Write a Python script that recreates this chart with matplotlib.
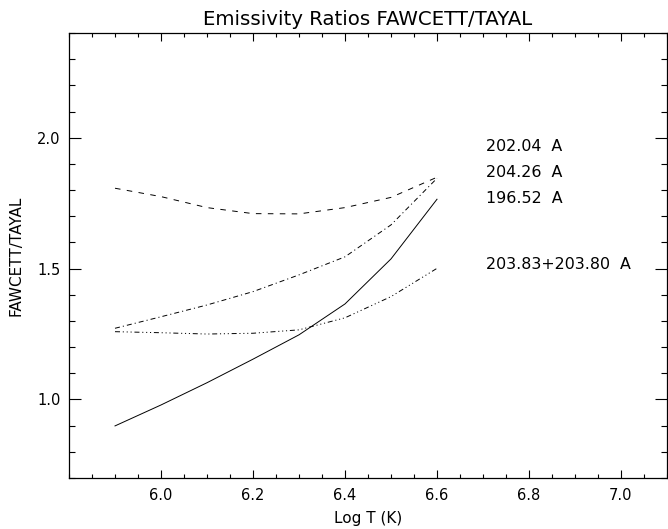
import matplotlib
matplotlib.use("Agg")
import matplotlib.pyplot as plt
from matplotlib.ticker import MultipleLocator

# log T grid and the four emissivity ratio curves
log_t = [5.9, 6.0, 6.1, 6.2, 6.3, 6.4, 6.5, 6.6]
ratio_202 = [1.807, 1.775, 1.733, 1.710, 1.709, 1.733, 1.772, 1.849]
ratio_204 = [1.272, 1.316, 1.361, 1.412, 1.476, 1.545, 1.667, 1.845]
ratio_196 = [0.899, 0.979, 1.064, 1.154, 1.247, 1.365, 1.537, 1.765]
ratio_203 = [1.259, 1.255, 1.250, 1.253, 1.266, 1.312, 1.393, 1.501]

labels = ["202.04  A", "204.26  A", "196.52  A", "203.83+203.80  A"]
label_y = [1.95, 1.85, 1.75, 1.50]
label_x = 6.706

plt.rcParams["font.family"] = "DejaVu Sans"
plt.rcParams["lines.scale_dashes"] = False

fig = plt.figure(figsize=(6.68, 5.29), dpi=100)
ax = fig.add_axes([0.1033, 0.0964, 0.8952, 0.8412])

lw = 0.7
ax.plot(log_t, ratio_202, color="k", lw=lw, linestyle=(0, (4.0, 4.6)))
ax.plot(log_t, ratio_204, color="k", lw=lw, linestyle=(0, (3.6, 2.2, 0.8, 2.2)))
ax.plot(log_t, ratio_196, color="k", lw=lw, linestyle="-")
ax.plot(log_t, ratio_203, color="k", lw=lw,
        linestyle=(0, (3.6, 2.0, 0.8, 2.0, 0.8, 2.0, 0.8, 2.0)))

for txt, yy in zip(labels, label_y):
    ax.text(label_x, yy, txt, fontsize=11.4, ha="left", va="baseline")

ax.set_xlim(5.8, 7.1)
ax.set_ylim(0.7, 2.4)
ax.xaxis.set_major_locator(MultipleLocator(0.2))
ax.xaxis.set_minor_locator(MultipleLocator(0.05))
ax.yaxis.set_major_locator(MultipleLocator(0.5))
ax.yaxis.set_minor_locator(MultipleLocator(0.1))
ax.set_xticks([6.0, 6.2, 6.4, 6.6, 6.8, 7.0])
ax.set_yticks([1.0, 1.5, 2.0])
ax.set_xticklabels(["6.0", "6.2", "6.4", "6.6", "6.8", "7.0"])
ax.set_yticklabels(["1.0", "1.5", "2.0"])

ax.tick_params(axis="x", which="both", direction="in", top=True, bottom=True,
               width=0.8, labelsize=10.5, pad=7)
ax.tick_params(axis="x", which="major", length=5.8)
ax.tick_params(axis="x", which="minor", length=2.9)
ax.tick_params(axis="y", which="both", direction="in", left=True, right=True,
               width=0.8, labelsize=10.5, pad=6)
ax.tick_params(axis="y", which="major", length=8.6)
ax.tick_params(axis="y", which="minor", length=4.3)
for s in ax.spines.values():
    s.set_linewidth(0.9)

ax.set_xlabel("Log T (K)", fontsize=11, labelpad=6)
ax.set_ylabel("FAWCETT/TAYAL", fontsize=11, labelpad=10)
ax.set_title("Emissivity Ratios FAWCETT/TAYAL", fontsize=14.2, pad=6)

fig.savefig("out.png", dpi=100)
